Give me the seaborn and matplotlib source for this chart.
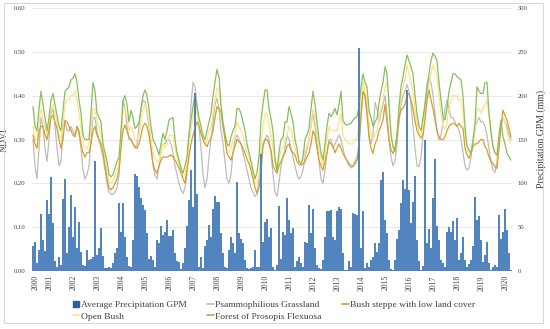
import matplotlib
matplotlib.use("Agg")
import matplotlib.pyplot as plt
import matplotlib.patches as mpatches
from matplotlib.lines import Line2D
import numpy as np
import seaborn as sns

# monthly series, June 2000 -> May 2020
years = [str(y) for y in range(2000, 2021)]

precip = [
    28, 33, 9, 24, 65, 35, 23,
    81, 65, 107, 55, 11, 4, 16, 7, 82, 105, 21, 50,
    87, 39, 73, 26, 56, 22, 7, 6, 24, 13, 14, 16,
    126, 18, 26, 49, 17, 3, 3, 4, 3, 9, 20, 26,
    77, 44, 78, 39, 16, 6, 5, 35, 111, 108, 96, 83,
    75, 70, 43, 14, 17, 13, 4, 35, 32, 51, 41, 45,
    58, 40, 40, 47, 20, 11, 10, 2, 9, 26, 51, 81,
    115, 73, 203, 88, 5, 16, 3, 28, 35, 52, 39, 71,
    85, 79, 79, 43, 20, 5, 3, 24, 39, 32, 20, 102,
    43, 36, 32, 13, 3, 2, 3, 5, 24, 4, 4, 134,
    33, 56, 59, 39, 49, 5, 1, 7, 74, 14, 44, 41,
    83, 58, 43, 49, 5, 11, 16, 9, 4, 33, 32, 75,
    43, 71, 26, 7, 3, 2, 13, 39, 68, 68, 70, 39,
    35, 68, 73, 71, 20, 1, 1, 11, 5, 66, 65, 64,
    254, 26, 68, 3, 9, 5, 13, 16, 32, 22, 32, 104,
    113, 58, 43, 13, 2, 1, 13, 37, 47, 77, 104, 94,
    206, 92, 55, 79, 108, 35, 11, 1, 6, 149, 32, 48,
    26, 83, 128, 51, 35, 13, 9, 5, 45, 50, 44, 57,
    35, 60, 13, 21, 39, 13, 5, 8, 12, 29, 84, 58,
    63, 35, 10, 18, 33, 9, 1, 4, 7, 5, 64, 36,
    45, 71, 47, 20, 1,
]

forest = [
    .375, .33, .32, .37, .41, .38, .35,
    .32, .35, .39, .405, .38, .356, .33, .32, .367, .41, .415, .42,
    .436, .44, .45, .43, .39, .36, .31, .30, .30, .30, .36, .43,
    .41, .36, .35, .34, .29, .27, .25, .22, .215, .22, .235, .25,
    .26, .32, .39, .40, .38, .34, .367, .35, .325, .33, .34, .37,
    .40, .413, .40, .37, .33, .30, .29, .28, .265, .29, .314, .30,
    .32, .344, .348, .35, .30, .27, .253, .235, .223, .24, .26, .314,
    .345, .375, .405, .375, .35, .33, .31, .30, .32, .34, .36, .40,
    .43, .46, .443, .38, .34, .314, .29, .285, .306, .32, .33, .371,
    .37, .36, .34, .32, .29, .27, .25, .23, .21, .225, .26, .344,
    .38, .413, .413, .37, .348, .318, .26, .227, .27, .30, .303, .34,
    .34, .375, .36, .34, .30, .28, .25, .245, .26, .30, .31, .325,
    .37, .41, .38, .34, .30, .27, .253, .29, .33, .36, .352, .36,
    .371, .356, .38, .41, .344, .335, .333, .335, .337, .344, .35, .352,
    .375, .42, .45, .43, .42, .367, .35, .33, .34, .348, .382, .41,
    .43, .466, .45, .38, .31, .284, .272, .31, .375, .42, .443, .47,
    .493, .48, .465, .45, .40, .36, .33, .32, .35, .38, .413, .45,
    .48, .497, .49, .48, .43, .39, .352, .345, .37, .41, .43, .45,
    .45, .443, .44, .436, .40, .33, .285, .276, .268, .30, .337, .42,
    .41, .405, .405, .43, .43, .36, .32, .284, .27, .265, .31, .344,
    .306, .29, .268, .26, .253,
]

open_bush = [
    .33, .30, .30, .34, .37, .35, .33,
    .31, .33, .37, .38, .36, .34, .31, .30, .33, .38, .39, .39,
    .40, .40, .41, .39, .36, .33, .29, .28, .28, .29, .32, .37,
    .37, .34, .33, .31, .28, .26, .23, .205, .20, .205, .22, .23,
    .245, .30, .36, .37, .35, .32, .33, .32, .30, .30, .31, .34,
    .37, .38, .37, .34, .30, .27, .26, .25, .25, .27, .29, .28,
    .29, .31, .31, .31, .28, .26, .245, .23, .215, .22, .245, .29,
    .32, .35, .38, .36, .34, .32, .30, .29, .30, .32, .33, .36,
    .39, .42, .41, .37, .33, .31, .28, .27, .28, .30, .31, .34,
    .33, .32, .31, .29, .27, .26, .24, .22, .20, .20, .22, .28,
    .33, .36, .36, .33, .31, .28, .245, .225, .255, .275, .28, .30,
    .31, .33, .32, .30, .28, .265, .25, .245, .25, .275, .285, .30,
    .33, .37, .35, .31, .28, .255, .24, .27, .30, .33, .32, .32,
    .32, .32, .34, .36, .31, .30, .295, .29, .29, .29, .30, .30,
    .33, .39, .43, .41, .39, .34, .31, .30, .31, .32, .35, .37,
    .39, .42, .43, .39, .32, .28, .275, .31, .36, .40, .42, .44,
    .47, .45, .43, .41, .37, .34, .315, .31, .33, .36, .39, .42,
    .45, .47, .46, .44, .40, .36, .33, .325, .34, .37, .39, .40,
    .40, .40, .39, .39, .36, .31, .28, .27, .27, .29, .32, .37,
    .37, .36, .37, .38, .39, .35, .31, .28, .27, .26, .29, .34,
    .35, .34, .32, .30, .29,
]

grassland = [
    .30, .24, .21, .28, .35, .33, .28,
    .25, .30, .36, .37, .33, .28, .24, .25, .33, .34, .32, .32,
    .33, .32, .31, .33, .31, .28, .23, .21, .22, .24, .30, .35,
    .35, .32, .30, .28, .26, .23, .20, .18, .175, .175, .18, .19,
    .22, .30, .39, .37, .33, .30, .30, .29, .28, .29, .33, .37,
    .39, .386, .36, .33, .28, .24, .22, .21, .24, .27, .29, .29,
    .30, .30, .29, .27, .24, .22, .20, .185, .177, .19, .22, .30,
    .38, .43, .42, .38, .33, .28, .22, .19, .21, .26, .30, .34,
    .38, .394, .37, .32, .29, .25, .21, .20, .22, .27, .30, .31,
    .30, .29, .27, .25, .23, .21, .19, .18, .17, .175, .21, .26,
    .29, .30, .31, .30, .27, .22, .18, .17, .20, .24, .26, .28,
    .31, .30, .28, .26, .24, .22, .21, .215, .23, .26, .28, .30,
    .33, .36, .33, .29, .25, .21, .20, .23, .27, .30, .30, .28,
    .29, .30, .31, .30, .28, .26, .25, .24, .235, .24, .25, .26,
    .29, .36, .41, .40, .36, .31, .29, .31, .385, .37, .34, .36,
    .38, .40, .36, .30, .26, .24, .25, .29, .34, .38, .40, .41,
    .425, .41, .38, .33, .28, .24, .238, .26, .31, .38, .43, .44,
    .43, .40, .36, .32, .30, .31, .34, .37, .39, .37, .35, .35,
    .34, .33, .32, .30, .27, .24, .23, .235, .26, .29, .33, .34,
    .35, .34, .34, .33, .31, .28, .25, .23, .225, .25, .30, .33,
    .35, .34, .33, .31, .30,
]

bush_steppe = [
    .31, .29, .28, .32, .33, .33, .31,
    .30, .32, .35, .356, .34, .325, .30, .28, .30, .344, .34, .33,
    .32, .31, .306, .33, .32, .29, .27, .26, .27, .27, .29, .32,
    .33, .31, .30, .29, .27, .24, .21, .19, .185, .19, .20, .21,
    .23, .28, .32, .333, .32, .306, .30, .29, .284, .28, .29, .31,
    .33, .337, .33, .31, .28, .245, .23, .223, .24, .253, .26, .26,
    .26, .262, .265, .26, .253, .245, .235, .223, .21, .20, .23, .26,
    .29, .31, .325, .34, .33, .314, .30, .29, .284, .295, .303, .32,
    .35, .375, .37, .363, .33, .30, .268, .26, .253, .27, .284, .30,
    .295, .29, .28, .268, .255, .245, .23, .21, .19, .177, .19, .223,
    .284, .30, .30, .29, .276, .24, .23, .223, .24, .25, .26, .27,
    .285, .29, .275, .27, .265, .25, .243, .242, .244, .25, .26, .27,
    .29, .32, .31, .28, .253, .24, .23, .25, .27, .295, .29, .284,
    .27, .28, .29, .28, .268, .26, .253, .245, .24, .238, .245, .253,
    .28, .35, .41, .40, .36, .306, .28, .268, .29, .30, .32, .33,
    .345, .38, .34, .30, .276, .268, .28, .31, .35, .367, .372, .38,
    .40, .405, .39, .37, .344, .32, .31, .303, .31, .344, .39, .413,
    .39, .37, .344, .32, .306, .30, .30, .306, .32, .33, .335, .337,
    .335, .33, .337, .33, .325, .28, .265, .257, .27, .284, .29, .29,
    .295, .30, .30, .284, .276, .26, .25, .245, .238, .234, .28, .33,
    .367, .355, .344, .325, .306,
]

months = np.arange(len(precip))
year_start = [0] + [7 + 12 * k for k in range(20)]

sns.set_theme(style="white")
plt.rcParams["font.family"] = ["Liberation Serif", "DejaVu Serif"]

fig = plt.figure(figsize=(5.5, 3.29), dpi=100)
ax = fig.add_axes([32 / 550, 1 - 271 / 329, 480 / 550, 263 / 329])
ax2 = ax.twinx()

bar_color = "#5285c0"
series = [
    (grassland, "#bdbdbd", "Psammophilious Grassland"),
    (open_bush, "#ffe28a", "Open Bush"),
    (bush_steppe, "#d4a02a", "Bush steppe with low land cover"),
    (forest, "#86c05a", "Forest of Prosopis Flexuosa"),
]
for vals, col, lab in series:
    sns.lineplot(x=months, y=vals, ax=ax, color=col, lw=0.9, legend=False)

# categorical bars sit at positions 0..n-1, same as the month index
sns.barplot(x=months, y=precip, ax=ax2, color=bar_color, width=0.55,
            saturation=1, linewidth=0)

for a in (ax, ax2):
    for s in a.spines.values():
        s.set_visible(False)

ax.set_ylim(0, 0.6)
ax2.set_ylim(0, 300)
ax.set_yticks(np.arange(0, 0.61, 0.1))
ax.set_yticklabels([f"{v:.2f}" for v in np.arange(0, 0.61, 0.1)])
ax2.set_yticks(range(0, 301, 50))
ax.yaxis.grid(True, color="#e4e4e4", lw=0.6)
ax.set_axisbelow(True)

ax.set_xticks([s + 1.5 for s in year_start])
ax.set_xticklabels(years, rotation=90)
ax.set_xlim(-0.5, len(precip) - 0.5)
ax.tick_params(axis="x", labelsize=5.5, length=0, pad=3, colors="#404040")
ax.tick_params(axis="y", labelsize=4.8, length=0, pad=5, colors="#404040")
ax2.tick_params(axis="y", labelsize=4.8, length=0, pad=4, colors="#404040")
ax2.tick_params(axis="x", length=0)
ax2.set_xlabel("")

ax.set_ylabel("NDVI", fontsize=7, color="#404040", labelpad=3)
ax2.set_ylabel("Precipitation GPM (mm)", fontsize=7, color="#404040", labelpad=6)

hd = {lab: Line2D([], [], color=col, lw=1.2) for _, col, lab in series}
hd["Average Precipitation GPM"] = mpatches.Patch(color="#2f5f9e")
order = ["Average Precipitation GPM", "Open Bush", "Psammophilious Grassland",
         "Forest of Prosopis Flexuosa", "Bush steppe with low land cover"]
fig.legend([hd[k] for k in order], order, ncol=3, loc="upper left",
           bbox_to_anchor=(64 / 550, 1 - 292 / 329), frameon=False, fontsize=6.8,
           handlelength=0.7, handleheight=0.7, handletextpad=0.15,
           columnspacing=2.2, labelspacing=0.3, labelcolor="#404040")

fig.patches.append(mpatches.Rectangle((4 / 550, 1 - 323 / 329), 539 / 550, 320 / 329,
                                      transform=fig.transFigure, fill=False,
                                      ec="#d9d9d9", lw=0.8))

fig.savefig("out.png", dpi=100)
